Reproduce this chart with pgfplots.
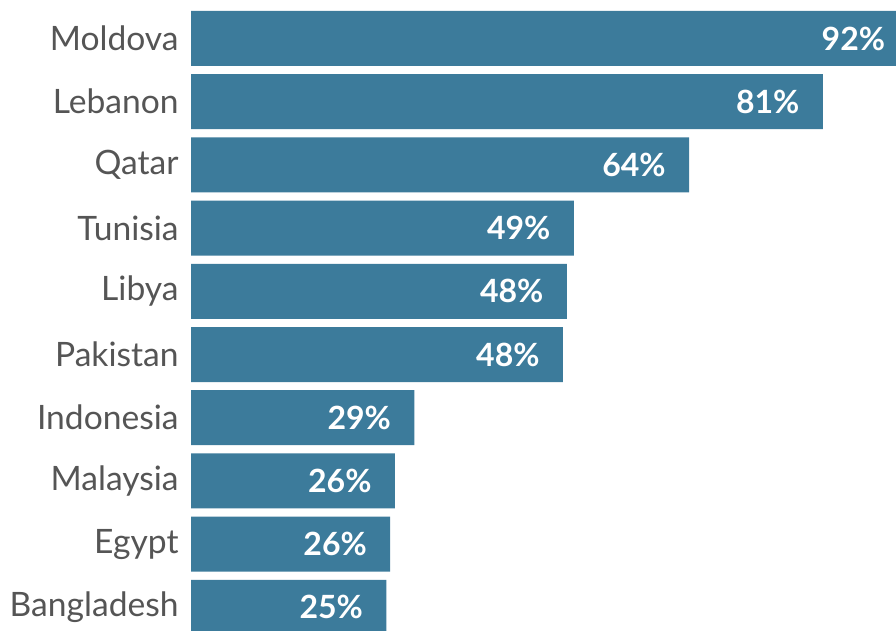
\documentclass[border=0pt]{standalone}
\usepackage{pgfplots}
\usepackage{pgfplotstable}
\pgfplotsset{compat=1.18}
\usepackage{fontspec}
\setmainfont{Lato}
\definecolor{barblue}{RGB}{60,123,155}
\definecolor{txtgray}{RGB}{85,85,85}
\pgfplotstableread{
idx value label
0 92.2 92
1 81.2 81
2 64.0 64
3 49.2 49
4 48.3 48
5 47.8 48
6 28.7 29
7 26.2 26
8 25.6 26
9 25.1 25
}\datatable
\begin{document}
\begin{tikzpicture}
\begin{axis}[
  name=ax,
  scale only axis,
  width=352.5pt, height=315pt,
  xbar, bar width=27.5pt, bar shift=0pt,
  xmin=0, xmax=90.6,
  ymin=-0.609, ymax=9.359,
  y dir=reverse,
  clip=false,
  axis line style={draw=none},
  xtick=\empty,
  ytick={0,...,9},
  yticklabels={Moldova,Lebanon,Qatar,Tunisia,Libya,Pakistan,Indonesia,Malaysia,Egypt,Bangladesh},
  major tick length=0pt,
  ytick style={draw=none},
  yticklabel style={font=\fontsize{16.8}{20}\selectfont, text=txtgray, inner sep=0pt, xshift=-6pt},
  point meta=explicit symbolic,
  nodes near coords={\pgfplotspointmeta\%},
  nodes near coords style={font=\bfseries\fontsize{16}{19}\selectfont, text=white, anchor=east, inner sep=0pt, xshift=-11.5pt},
]
\addplot[fill=barblue, draw=none] table[x=value, y=idx, meta=label] {\datatable};
\end{axis}
\pgfresetboundingbox
\useasboundingbox ([xshift=-95.5pt]ax.south west) rectangle (ax.north east);
\end{tikzpicture}
\end{document}
